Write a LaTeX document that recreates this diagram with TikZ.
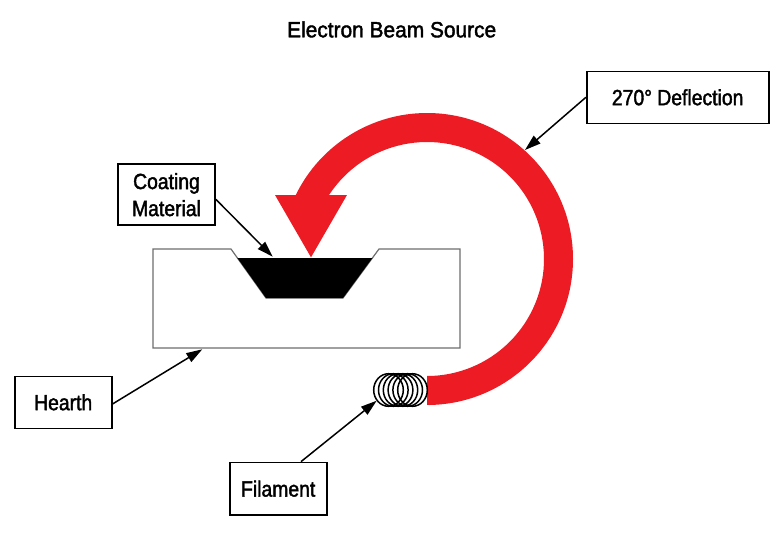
\documentclass[tikz,border=0pt]{standalone}
\usepackage{fontspec}
\setmainfont{Liberation Sans}[FakeStretch=0.88,FakeBold=1.8]
\newfontfamily\titlefont{Liberation Sans}[FakeStretch=0.95,FakeBold=1.8]
\usetikzlibrary{arrows.meta,calc}
\definecolor{beamred}{RGB}{237,28,36}
\definecolor{hearthgray}{RGB}{110,110,110}
\begin{document}
\begin{tikzpicture}[x=1pt,y=-1pt,
  lbl/.style={draw=black,line width=1.6pt,fill=white,inner sep=0pt,
    font=\fontsize{22}{27}\selectfont,align=center},
  ptr/.style={line width=1.5pt,-{Triangle[length=16pt,width=10pt]}},
  coil/.style={line width=1.5pt,draw=black}
]
\useasboundingbox (0,0) rectangle (780,533);
\fill[white] (0,0) rectangle (780,533);

% title
\node[font=\titlefont\fontsize{22}{27}\selectfont,anchor=base,inner sep=0pt] (title) at (391.7,37.3) {Electron Beam Source};

% hearth
\draw[hearthgray,line width=1.2pt,fill=white] (153,249) -- (231,249) -- (266,298) -- (343,298) -- (379,249) -- (460,249) -- (460,348) -- (153,348) -- cycle;
\fill[black] (237.4,258) -- (372.4,258) -- (343,298) -- (266,298) -- cycle;

% beam
\coordinate (C) at (427,259);
\fill[beamred] ($(C)+(90:146)$) arc[start angle=90,end angle=-154,radius=146]
  -- ($(C)+(-146.8:117)$) arc[start angle=-146.8,end angle=90,radius=117] -- cycle;
\fill[beamred] (275,195) -- (347,195) -- (311,257.3) -- cycle;

% filament
\foreach \i in {0,...,5} \draw[coil] (388.5+4.8*\i,390) ellipse[x radius=14.8,y radius=16.3];

% labels
\node[lbl,minimum width=97pt,minimum height=61pt] (coat) at (166.5,194.7) {Coating\\Material};
\node[lbl,minimum width=182pt,minimum height=52pt] (defl) at (677.7,97.3) {270° Deflection};
\node[lbl,minimum width=97pt,minimum height=52pt] (hearth) at (63.2,402.3) {Hearth};
\node[lbl,minimum width=97pt,minimum height=52.5pt] (fil) at (278.2,488.7) {Filament};

% targets
\coordinate (coattip) at (272.7,256.7);
\coordinate (defltip) at (525,150);
\coordinate (hearthtip) at (202.3,349.3);
\coordinate (filtip) at (376.7,400.7);

\draw[ptr] ([yshift=-4.6pt]coat.east) -- (coattip);
\draw[ptr] (defl.west) -- (defltip);
\draw[ptr] ([yshift=-1.7pt]hearth.east) -- (hearthtip);
\draw[ptr] ([xshift=22.8pt]fil.north) -- (filtip);
\end{tikzpicture}
\end{document}
